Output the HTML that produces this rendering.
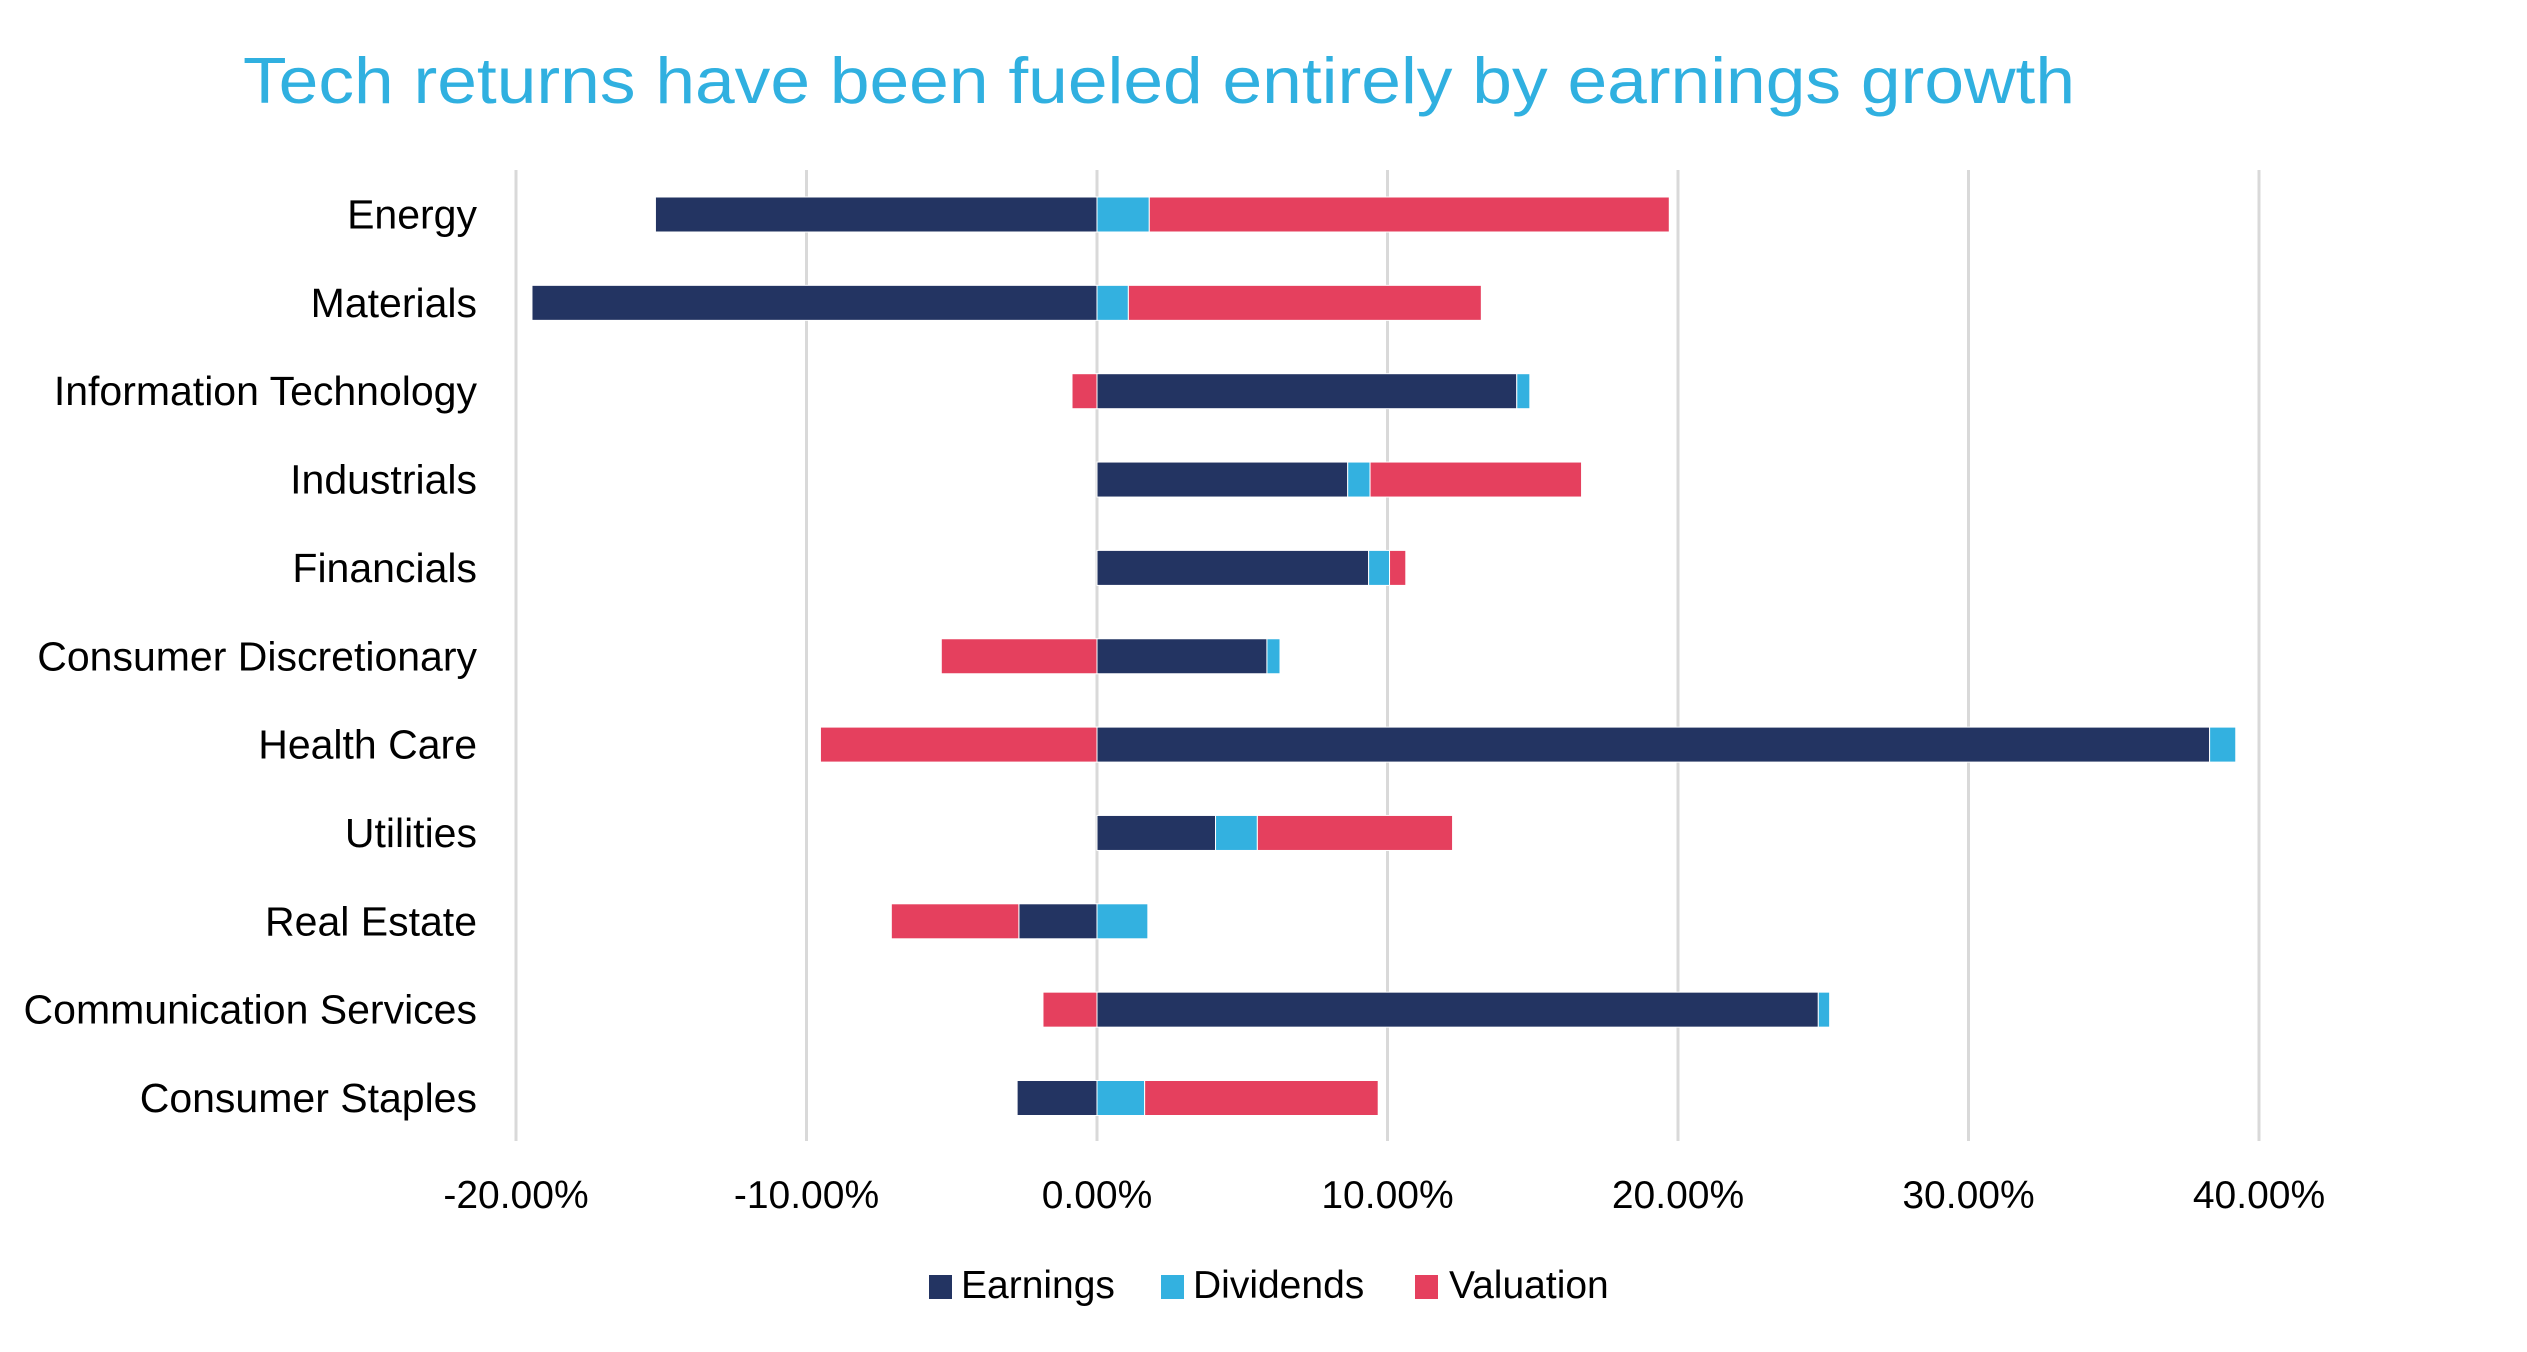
<!DOCTYPE html>
<html><head><meta charset="utf-8">
<style>
html,body{margin:0;padding:0;background:#fff;}
svg{display:block;font-family:"Liberation Sans",sans-serif;}
</style></head>
<body>
<svg id="chart" width="2527" height="1352" viewBox="0 0 2527 1352" xmlns="http://www.w3.org/2000/svg">
<rect width="2527" height="1352" fill="#fff"/>
<text x="243" y="103" font-size="65" fill="#30B0E0" textLength="1832" lengthAdjust="spacingAndGlyphs">Tech returns have been fueled entirely by earnings growth</text>
<g id="grid"></g>
<g id="bars"></g>
<g id="ylabels"></g>
<g id="xlabels"></g>
<g>
  <g>
    <rect x="929" y="1275" width="23" height="24" fill="#233462"/>
    <text x="961" y="1298" font-size="39" fill="#000">Earnings</text>
  </g>
  <g>
    <rect x="1161" y="1275" width="23" height="24" fill="#33B1E0"/>
    <text x="1193" y="1298" font-size="39" fill="#000">Dividends</text>
  </g>
  <g>
    <rect x="1415" y="1275" width="23" height="24" fill="#E5405E"/>
    <text x="1449" y="1298" font-size="39" fill="#000">Valuation</text>
  </g>
</g>
</svg>
<script>
const categories = ["Energy","Materials","Information Technology","Industrials","Financials","Consumer Discretionary","Health Care","Utilities","Real Estate","Communication Services","Consumer Staples"];
const earnings  = [-15.2,-19.45,14.45,8.63,9.35,5.85,38.3,4.08,-2.69,24.83,-2.75];
const dividends = [1.8,1.08,0.45,0.77,0.72,0.45,0.9,1.44,1.75,0.39,1.64];
const valuation = [17.9,12.15,-0.86,7.28,0.56,-5.36,-9.52,6.72,-4.39,-1.86,8.04];
const xTicks = [-20,-10,0,10,20,30,40];
const xTickLabels = ["-20.00%","-10.00%","0.00%","10.00%","20.00%","30.00%","40.00%"];

const NS = "http://www.w3.org/2000/svg";
const x0 = 1097, pxPer = 29.05;
function xScale(v){ return x0 + v*pxPer; }
const rowTop = 214.5, rowStep = 88.35, barH = 35;
function yScale(i){ return rowTop + i*rowStep; }
function mk(tag, attrs){ const e=document.createElementNS(NS,tag); for(const k in attrs) e.setAttribute(k,attrs[k]); return e; }

const grid = document.getElementById('grid');
xTicks.forEach((t,i)=>{
  const l = mk('line',{x1:xScale(t),x2:xScale(t),y1:170,y2:1141,stroke:'#d9d9d9','stroke-width':3});
  
  
  grid.appendChild(l);
  const tx = mk('text',{x:xScale(t),y:1208,'font-size':39,'text-anchor':'middle',fill:'#000'});
  
  
  tx.textContent = xTickLabels[i];
  document.getElementById('xlabels').appendChild(tx);
});

const series = [[earnings,'#233462','earnings'],[dividends,'#33B1E0','dividends'],[valuation,'#E5405E','valuation']];
const bars = document.getElementById('bars');
categories.forEach((c,i)=>{
  let pos=0, neg=0;
  const cy = yScale(i);
  series.forEach(([arr,col,nm])=>{
    const v = arr[i];
    let a,b;
    if(v>=0){ a=pos; b=pos+v; pos=b; } else { a=neg+v; b=neg; neg=a; }
    const r = mk('rect',{x:xScale(a),y:cy-barH/2,width:Math.max(0,xScale(b)-xScale(a)),height:barH,fill:col,stroke:'#fff','stroke-width':1});
    
    
    bars.appendChild(r);
  });
  const t = mk('text',{x:477,y:cy+14,'font-size':41,'text-anchor':'end',fill:'#000'});
  
  
  t.textContent = c;
  document.getElementById('ylabels').appendChild(t);
});
</script>
</body></html>
